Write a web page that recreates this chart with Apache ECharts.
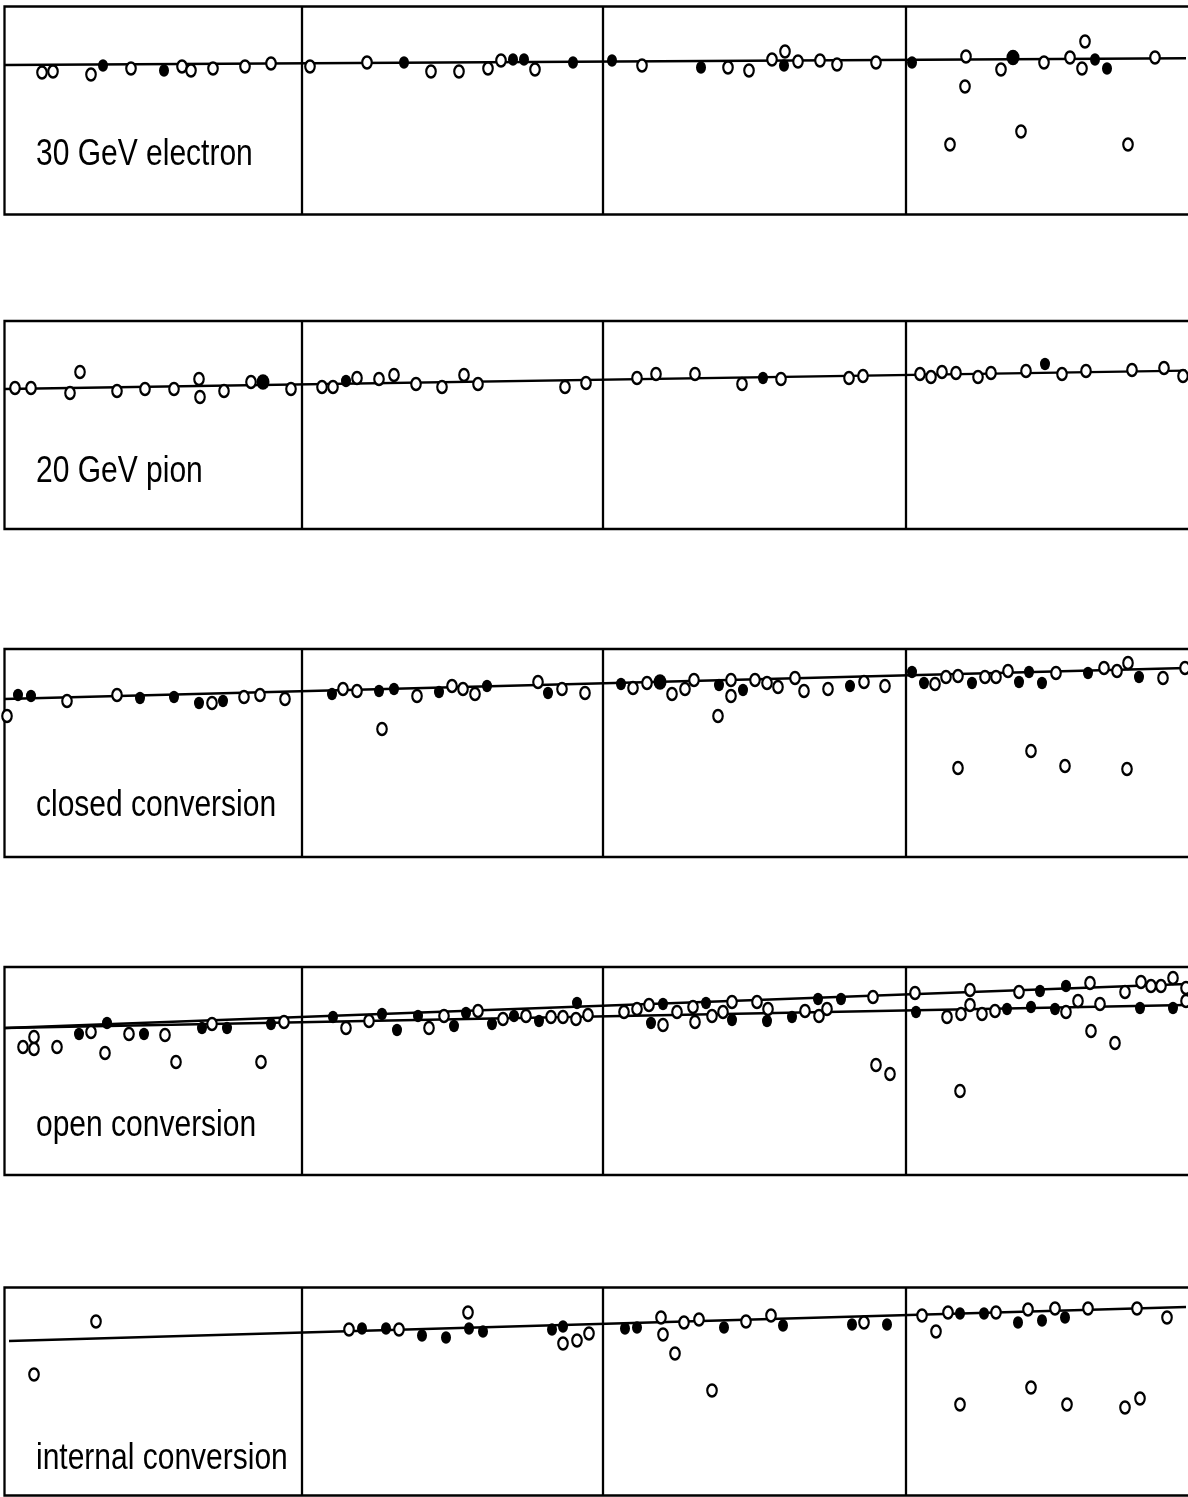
<!DOCTYPE html>
<html>
<head>
<meta charset="utf-8">
<script src="https://cdn.jsdelivr.net/npm/echarts@6/dist/echarts.min.js"></script>
<style>
  html, body { margin: 0; padding: 0; background: #fff; width: 1188px; height: 1497px; overflow: hidden; }
  #chart { width: 1215px; height: 1497px; }
</style>
</head>
<body>
<div id="chart"></div>
<script>
// ---------------- DATA (x: position along the module, y: height above panel floor; arbitrary units) ----------------
const panelTitles = ['30 GeV electron', '20 GeV pion', 'closed conversion', 'open conversion', 'internal conversion'];
const columnEdges = [301.5, 602.7, 905.7];

// Panel 1: 30 GeV electron
const p1Open = [[42,142],[53,143],[91,140],[131,146],[182,148],[191,144],[213,146],[245,148],[271,151],[310,148],[367,152],[431,143],[459,143],[488,146],[501,154],[535,145],[642,149],[728,147],[749,144],[772,155],[785,163],[798,153],[820,154],[837,150],[876,152],[966,158],[965,128],[950,70],[1001,145],[1021,83],[1044,152],[1070,157],[1085,173],[1082,146],[1128,70],[1155,157]];
const p1Filled = [[103,149],[164,144],[404,152],[513,155],[524,155],[573,152],[612,154],[701,147],[784,149],[912,152],[1095,155],[1107,146]];
const p1FilledLarge = [[1013,157]];
const p1Fit = [[5,149.5],[1186,156.2]];

// Panel 2: 20 GeV pion
const p2Open = [[15,141],[31,141],[70,136],[80,157],[117,138],[145,140],[174,140],[199,150],[200,132],[224,138],[251,147],[291,140],[322,142],[333,142],[357,151],[379,150],[394,154],[416,145],[442,142],[464,154],[478,145],[565,142],[586,146],[637,151],[656,155],[695,155],[742,145],[781,150],[849,151],[863,153],[920,155],[931,152],[942,157],[956,156],[978,152],[991,156],[1026,158],[1062,155],[1086,158],[1132,159],[1164,161],[1183,153]];
const p2Filled = [[346,148],[763,151],[1045,165]];
const p2FilledLarge = [[263,147]];
const p2Fit = [[5,140],[1186,158.4]];

// Panel 3: closed conversion
const p3Open = [[7,141],[67,156],[117,162],[212,154],[244,160],[260,162],[285,158],[343,168],[357,166],[382,128],[417,161],[452,171],[463,168],[475,163],[538,175],[562,168],[585,164],[633,169],[647,174],[672,163],[685,168],[694,177],[718,141],[731,177],[731,161],[755,177],[767,174],[778,170],[795,179],[804,166],[828,168],[864,175],[885,171],[935,173],[946,180],[958,181],[985,180],[996,180],[1008,186],[1056,184],[1104,189],[1117,186],[1128,194],[1163,179],[1185,189],[958,89],[1031,106],[1065,91],[1127,88]];
const p3Filled = [[18,162],[31,161],[140,159],[174,160],[199,154],[223,156],[332,163],[379,166],[394,168],[439,165],[487,171],[548,164],[621,173],[719,172],[743,167],[850,171],[912,185],[924,174],[972,174],[1019,175],[1029,185],[1042,174],[1088,184],[1139,180]];
const p3FilledLarge = [[660,175]];
const p3Fit = [[4,158],[1186,189]];

// Panel 4: open conversion (two fits)
const p4Open = [[23,128],[34,138],[34,126],[57,128],[91,143],[105,122],[129,141],[165,140],[176,113],[212,151],[261,113],[284,153],[346,147],[369,154],[429,147],[444,159],[478,164],[503,156],[526,159],[551,158],[563,158],[576,156],[588,160],[624,163],[637,166],[649,170],[663,150],[677,163],[693,168],[695,153],[712,159],[723,163],[732,173],[757,173],[768,166],[805,164],[819,159],[827,166],[873,178],[876,110],[890,101],[915,182],[947,158],[961,161],[970,170],[970,185],[960,84],[982,161],[995,164],[1019,183],[1066,163],[1078,174],[1090,192],[1091,144],[1100,171],[1115,132],[1125,183],[1141,193],[1151,189],[1161,189],[1173,197],[1186,187],[1186,174]];
const p4Filled = [[79,141],[107,152],[144,141],[202,147],[227,147],[271,151],[333,158],[382,161],[397,145],[418,159],[454,149],[466,162],[492,151],[514,159],[539,154],[577,172],[651,152],[663,171],[706,172],[732,155],[767,154],[792,158],[818,176],[841,176],[916,163],[1007,166],[1031,168],[1040,184],[1055,166],[1066,189],[1140,167],[1173,167]];
const p4FilledLarge = [];
const p4FitUpper = [[5,147],[1186,191]];
const p4FitLower = [[5,147],[1186,170]];

// Panel 5: internal conversion
const p5Open = [[96,174],[34,121],[349,166],[399,166],[468,183],[563,152],[577,155],[589,162],[661,178],[663,161],[675,142],[684,173],[699,176],[712,105],[746,174],[771,180],[864,173],[922,180],[936,164],[948,183],[960,91],[996,183],[1028,186],[1031,108],[1055,187],[1067,91],[1088,187],[1125,88],[1140,97],[1137,187],[1167,178]];
const p5Filled = [[362,167],[386,167],[422,160],[446,158],[469,167],[483,164],[552,166],[563,169],[625,167],[637,168],[724,168],[783,170],[852,171],[887,171],[960,182],[984,182],[1018,173],[1042,175],[1065,178]];
const p5FilledLarge = [];
const p5Fit = [[9,154.5],[1186,188.5]];

// ---------------- LAYOUT ----------------
const panelTops = [6.5, 321, 649, 967, 1287.5];
const panelHeight = 208;
const titleY = [155, 472, 806, 1126, 1459];

const panels = [
  { open: p1Open, filled: p1Filled, big: p1FilledLarge, fits: [p1Fit] },
  { open: p2Open, filled: p2Filled, big: p2FilledLarge, fits: [p2Fit] },
  { open: p3Open, filled: p3Filled, big: p3FilledLarge, fits: [p3Fit] },
  { open: p4Open, filled: p4Filled, big: p4FilledLarge, fits: [p4FitUpper, p4FitLower] },
  { open: p5Open, filled: p5Filled, big: p5FilledLarge, fits: [p5Fit] }
];

const grid = [], xAxis = [], yAxis = [], series = [];
panels.forEach((p, i) => {
  grid.push({ left: 4.5, top: panelTops[i], width: 1210, height: panelHeight,
              show: true, borderColor: '#000', borderWidth: 2.3, backgroundColor: 'transparent' });
  xAxis.push({ gridIndex: i, type: 'value', min: 4.5, max: 1214.5, show: false });
  yAxis.push({ gridIndex: i, type: 'value', min: 0, max: panelHeight, show: false });
  p.fits.forEach((f, k) => {
    const s = {
      type: 'line', xAxisIndex: i, yAxisIndex: i, data: f, symbol: 'none', silent: true,
      lineStyle: { color: '#000', width: 2.4 }, z: 2
    };
    if (k === 0) {
      s.markLine = {
        silent: true, symbol: ['none', 'none'], label: { show: false },
        lineStyle: { type: 'solid', color: '#000', width: 2.3 },
        data: columnEdges.map(v => ({ xAxis: v }))
      };
    }
    series.push(s);
  });
  series.push({
    type: 'scatter', xAxisIndex: i, yAxisIndex: i, data: p.open, symbol: 'circle',
    symbolSize: [9.5, 12], itemStyle: { color: '#fff', borderColor: '#000', borderWidth: 2.4, opacity: 1 }, z: 4
  });
  series.push({
    type: 'scatter', xAxisIndex: i, yAxisIndex: i, data: p.filled, symbol: 'circle',
    symbolSize: [10, 12.5], itemStyle: { color: '#000', opacity: 1 }, z: 5
  });
  series.push({
    type: 'scatter', xAxisIndex: i, yAxisIndex: i, data: p.big, symbol: 'circle',
    symbolSize: [13, 15.5], itemStyle: { color: '#000', opacity: 1 }, z: 5
  });
});

const graphic = panelTitles.map((t, i) => ({
  type: 'text', x: 36, y: titleY[i], scaleY: 1.2, silent: true, z: 10,
  style: {
    text: t, fill: '#000',
    font: '30px "Liberation Sans", Arial, Helvetica, sans-serif',
    align: 'left', verticalAlign: 'middle',
    textAlign: 'left', textVerticalAlign: 'middle'
  }
}));

const chart = echarts.init(document.getElementById('chart'), null, { renderer: 'canvas' });
chart.setOption({
  animation: false,
  backgroundColor: '#fff',
  grid, xAxis, yAxis, series, graphic
});
</script>
</body>
</html>
